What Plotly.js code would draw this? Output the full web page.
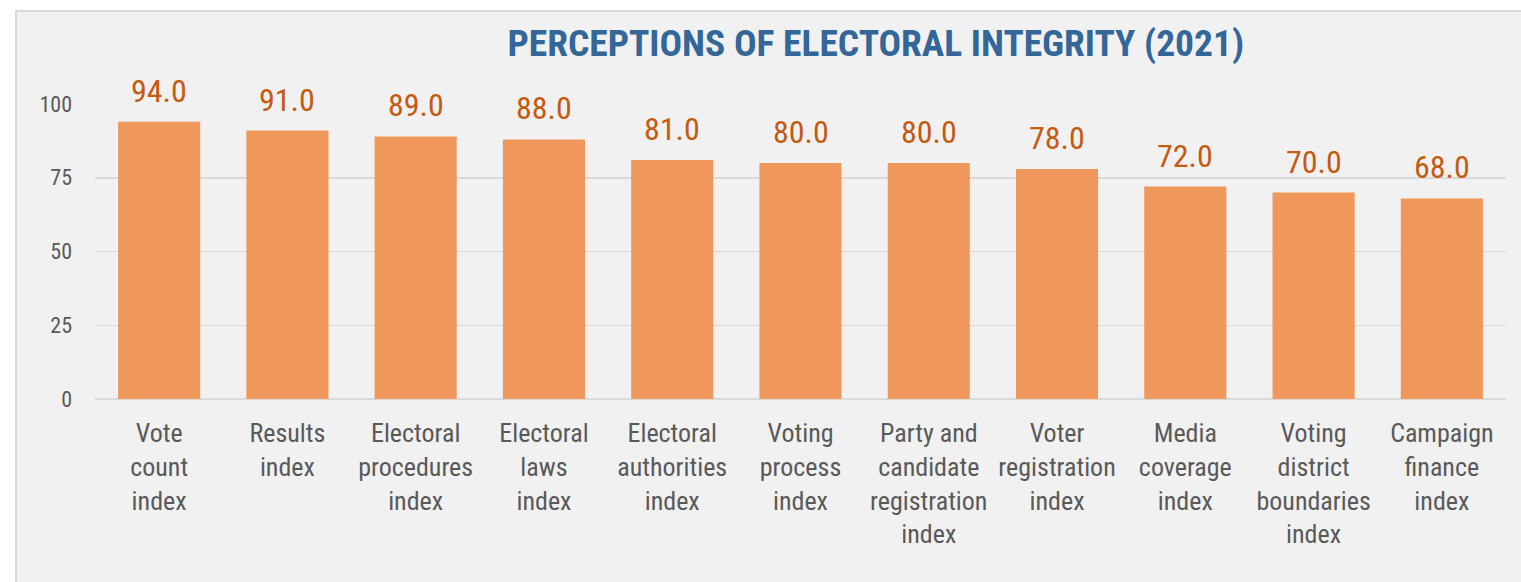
<!DOCTYPE html>
<html>
<head>
<meta charset="utf-8">
<script src="https://cdn.plot.ly/plotly-3.0.1.min.js"></script>
<style>
html,body{margin:0;padding:0;background:#ffffff;width:1521px;height:582px;overflow:hidden;}
#frame{position:absolute;left:15px;top:10px;width:1504px;height:570px;border-left:2px solid #d9d9d9;border-top:2px solid #d9d9d9;background:#f1f1f1;}
#chart{width:1504px;height:570px;}
</style>
</head>
<body>
<div id="frame"><div id="chart"></div></div>
<script>
const categories = [
  "Vote<br>count<br>index",
  "Results<br>index",
  "Electoral<br>procedures<br>index",
  "Electoral<br>laws<br>index",
  "Electoral<br>authorities<br>index",
  "Voting<br>process<br>index",
  "Party and<br>candidate<br>registration<br>index",
  "Voter<br>registration<br>index",
  "Media<br>coverage<br>index",
  "Voting<br>district<br>boundaries<br>index",
  "Campaign<br>finance<br>index"
];
const values = [94, 91, 89, 88, 81, 80, 80, 78, 72, 70, 68];
const yTicks = [0, 25, 50, 75, 100];
const titleText = "PERCEPTIONS OF ELECTORAL INTEGRITY (2021)";

const FONT = "'Roboto Condensed', 'Liberation Sans Narrow', 'DejaVu Sans Condensed', Roboto, sans-serif";

const trace = {
  type: 'bar',
  x: categories,
  y: values,
  marker: {color: '#F0975B'},
  hoverinfo: 'x+y'
};

const annotations = categories.map((c, i) => ({
  x: c, y: values[i], xref: 'x', yref: 'y',
  text: values[i].toFixed(1),
  showarrow: false, yanchor: 'bottom', yshift: 10,
  font: {family: FONT, size: 32, color: '#C55A11'}
}));

const layout = {
  width: 1504, height: 570,
  margin: {l: 78, r: 15, t: 92, b: 183},
  paper_bgcolor: '#f1f1f1',
  plot_bgcolor: '#f1f1f1',
  bargap: 0.36,
  showlegend: false,
  title: {
    text: '<b>' + titleText + '</b>',
    x: 0.571, xanchor: 'center', y: 0.945, yanchor: 'middle',
    font: {family: FONT, size: 37.5, color: '#336699'}
  },
  font: {family: FONT, color: '#595959'},
  xaxis: {
    type: 'category',
    tickfont: {family: FONT, size: 26, color: '#595959'},
    ticks: '', ticklabelstandoff: 16,
    showline: false, showgrid: false, zeroline: false,
    fixedrange: true
  },
  yaxis: {
    range: [0, 100],
    tickvals: yTicks,
    ticktext: yTicks.map(String),
    tickfont: {family: FONT, size: 22, color: '#595959'},
    ticks: '', ticklabelstandoff: 22,
    showgrid: true, gridcolor: '#d9d9d9', gridwidth: 1.5,
    zeroline: true, zerolinecolor: '#d9d9d9', zerolinewidth: 1.5,
    showline: false, fixedrange: true
  },
  annotations: annotations
};

Plotly.newPlot('chart', [trace], layout, {displayModeBar: false, staticPlot: true});
</script>
</body>
</html>
